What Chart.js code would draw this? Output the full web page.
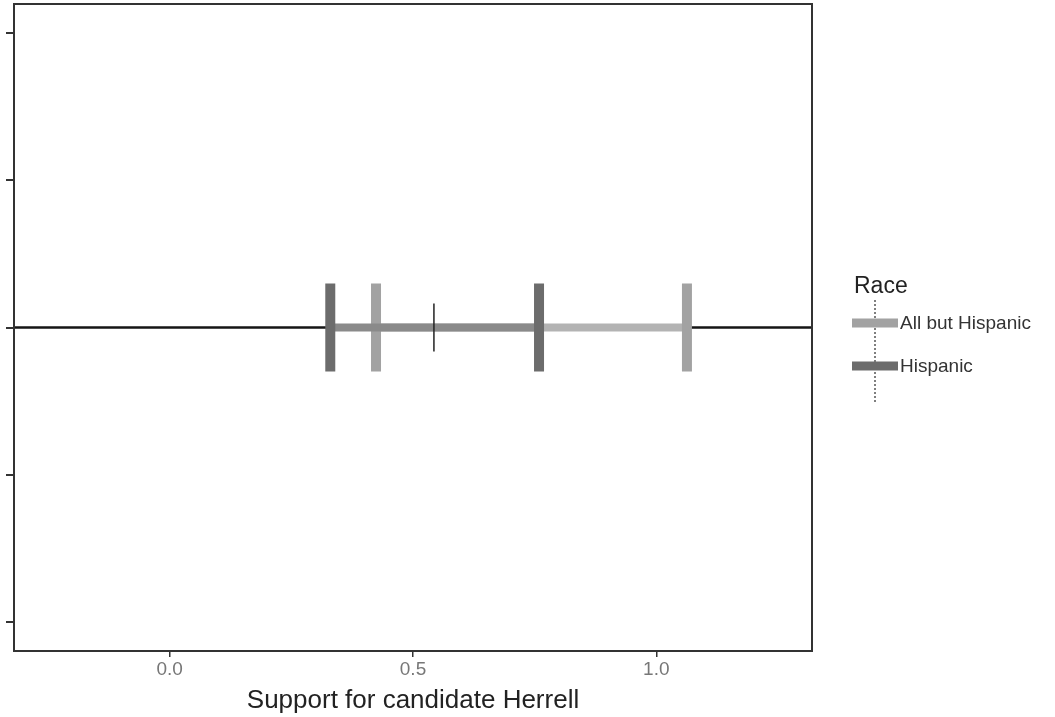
<!DOCTYPE html>
<html>
<head>
<meta charset="utf-8">
<script src="https://cdn.jsdelivr.net/npm/chart.js@4"></script>
<style>
  html, body { margin: 0; padding: 0; background: #fff; }
  #wrap { width: 1055px; height: 717px; }
</style>
</head>
<body>
<div id="wrap"><canvas id="chart" width="1055" height="717"></canvas></div>
<script>
// data
var seriesNames = ['All but Hispanic', 'Hispanic'];
var lowValues = [0.424, 0.330];
var highValues = [1.063, 0.759];
var markerValues = [0.543];
var xTicks = [0.0, 0.5, 1.0];
var yTicks = [-1, -0.5, 0, 0.5, 1];
var xRange = [-0.32, 1.32];
var yRange = [-1.1, 1.1];
var legendTitle = 'Race';
var xTitle = 'Support for candidate Herrell';

var barColors = ['#b3b3b3', '#8a8a8a'];
var capColors = ['#a2a2a2', '#6c6c6c'];
var fontFamily = '"Liberation Sans", Arial, sans-serif';

var datasets = [];

// reference line through the middle
datasets.push({
    type: 'line',
    data: [{x: xRange[0], y: 0}, {x: xRange[1], y: 0}],
    borderColor: '#151515',
    borderWidth: 2.5,
    pointRadius: 0,
    order: 10
});

for (var i = 0; i < seriesNames.length; i++) {
    datasets.push({
        type: 'line',
        label: seriesNames[i],
        data: [{x: lowValues[i], y: 0}, {x: highValues[i], y: 0}],
        borderColor: barColors[i],
        borderWidth: 8,
        pointStyle: 'line',
        rotation: 90,
        pointRadius: 44,
        pointHoverRadius: 44,
        pointBorderWidth: 10,
        pointBorderColor: capColors[i],
        order: 8 - i * 2
    });
}

datasets.push({
    type: 'scatter',
    data: markerValues.map(function(v) { return {x: v, y: 0}; }),
    pointStyle: 'line',
    rotation: 90,
    pointRadius: 24,
    pointBorderWidth: 1.5,
    pointBorderColor: '#222',
    order: 1
});

var framePlugin = {
    id: 'frame',
    afterDraw: function(chart) {
        var ctx = chart.ctx;
        var a = chart.chartArea;
        ctx.save();
        ctx.strokeStyle = '#333';
        ctx.lineWidth = 2;
        ctx.strokeRect(a.left, a.top, a.right - a.left, a.bottom - a.top);

        // legend
        ctx.fillStyle = '#222';
        ctx.font = '23px ' + fontFamily;
        ctx.textBaseline = 'alphabetic';
        ctx.fillText(legendTitle, 854, 293);

        var rowY = [323, 366];
        ctx.setLineDash([2, 2]);
        ctx.strokeStyle = '#555';
        ctx.lineWidth = 1.5;
        ctx.beginPath();
        ctx.moveTo(875, 300);
        ctx.lineTo(875, 403);
        ctx.stroke();
        ctx.setLineDash([]);

        ctx.font = '19px ' + fontFamily;
        for (var k = 0; k < seriesNames.length; k++) {
            ctx.strokeStyle = capColors[k];
            ctx.lineWidth = 9;
            ctx.beginPath();
            ctx.moveTo(852, rowY[k]);
            ctx.lineTo(898, rowY[k]);
            ctx.stroke();
            ctx.fillStyle = '#333';
            ctx.textBaseline = 'middle';
            ctx.fillText(seriesNames[k], 900, rowY[k] + 1);
        }
        ctx.restore();
    }
};

var ctx = document.getElementById('chart');
var myChart = new Chart(ctx, {
    type: 'line',
    data: { datasets: datasets },
    options: {
        responsive: false,
        animation: false,
        events: [],
        layout: { autoPadding: false, padding: { left: 6, right: 243, top: 4, bottom: 1 } },
        plugins: {
            legend: { display: false },
            tooltip: { enabled: false }
        },
        scales: {
            x: {
                type: 'linear',
                min: xRange[0],
                max: xRange[1],
                afterBuildTicks: function(axis) {
                    axis.ticks = xTicks.map(function(v) { return {value: v}; });
                },
                border: { display: false },
                grid: {
                    drawOnChartArea: false,
                    drawTicks: true,
                    tickLength: 6,
                    color: '#333',
                    lineWidth: 1.5
                },
                ticks: {
                    color: '#777',
                    font: { family: fontFamily, size: 19 },
                    padding: 1,
                    callback: function(v) { return v.toFixed(1); }
                },
                title: {
                    display: true,
                    text: xTitle,
                    color: '#222',
                    font: { family: fontFamily, size: 26 },
                    padding: { top: 3, bottom: 0 }
                }
            },
            y: {
                type: 'linear',
                min: yRange[0],
                max: yRange[1],
                afterBuildTicks: function(axis) {
                    axis.ticks = yTicks.map(function(v) { return {value: v}; });
                },
                border: { display: false },
                grid: {
                    drawOnChartArea: false,
                    drawTicks: true,
                    tickLength: 8,
                    color: '#333',
                    lineWidth: 2
                },
                ticks: { display: false }
            }
        }
    },
    plugins: [framePlugin]
});
</script>
</body>
</html>
